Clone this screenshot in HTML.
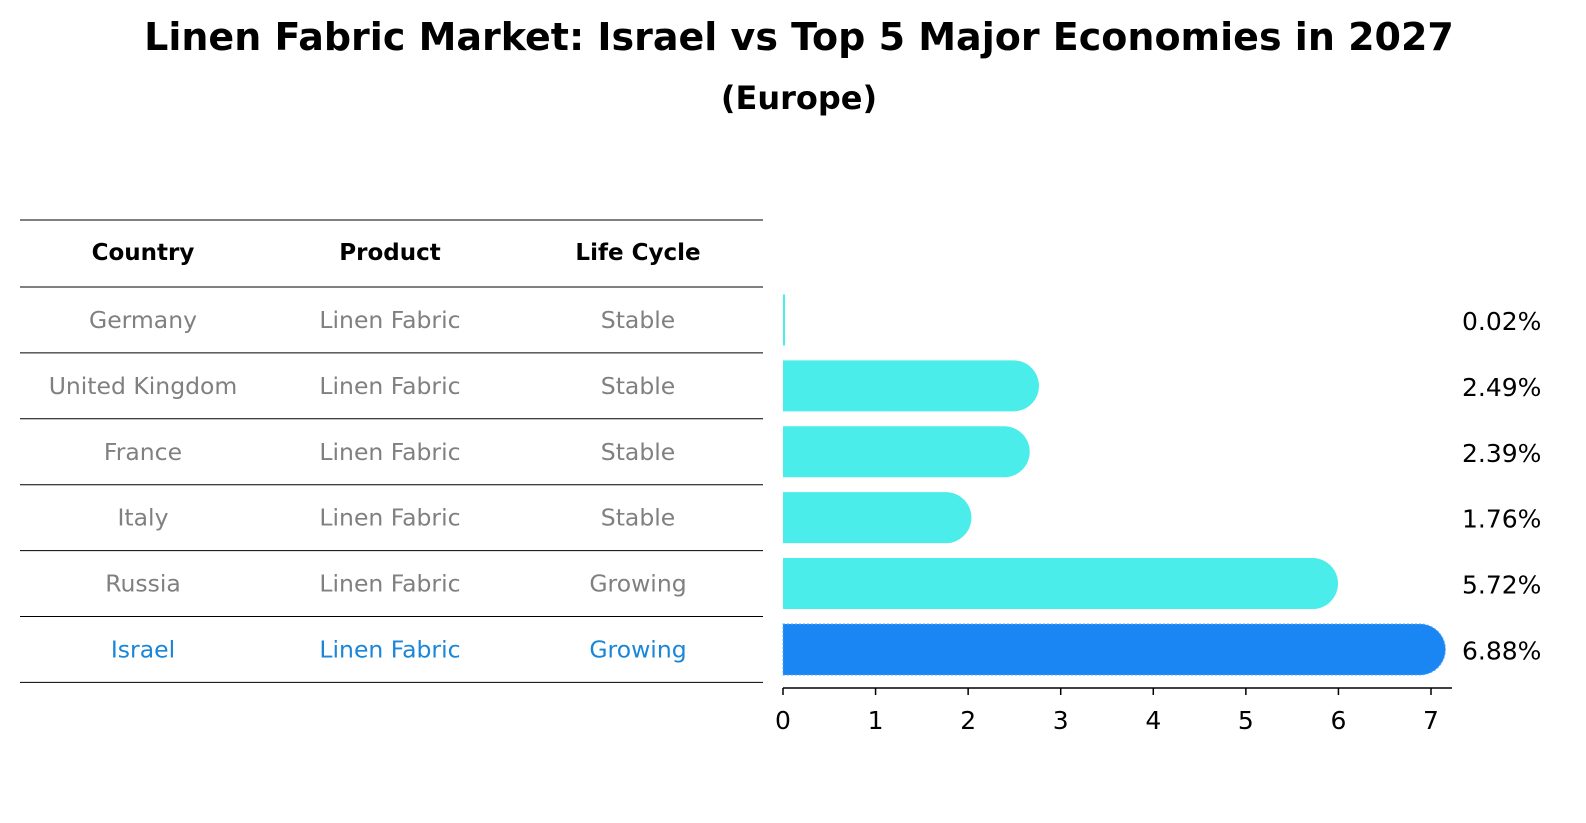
<!DOCTYPE html>
<html><head><meta charset="utf-8"><style>
body{margin:0;background:#fff;font-family:"Liberation Sans","DejaVu Sans",sans-serif;}
#root{position:relative;width:1586px;height:823px;overflow:hidden;}
.t{position:absolute;white-space:nowrap;}
</style></head><body>
<div id="root">
<div class="t" style="left:0;width:1598px;text-align:center;top:14px;font-size:38px;line-height:46px;font-weight:bold;font-family:'DejaVu Sans',sans-serif;">Linen Fabric Market: Israel vs Top 5 Major Economies in 2027</div>
<div class="t" style="left:0;width:1598px;text-align:center;top:79px;font-size:32px;line-height:38px;font-weight:bold;font-family:'DejaVu Sans',sans-serif;">(Europe)</div>
<svg id="svg" width="1586" height="823" style="position:absolute;left:0;top:0" font-family="DejaVu Sans, sans-serif"></svg>
</div>
<script>
const countries=["Germany","United Kingdom","France","Italy","Russia","Israel"];
const products=["Linen Fabric","Linen Fabric","Linen Fabric","Linen Fabric","Linen Fabric","Linen Fabric"];
const lifecycles=["Stable","Stable","Stable","Stable","Growing","Growing"];
const values=[0.02,2.49,2.39,1.76,5.72,6.88];
const ticks=[0,1,2,3,4,5,6,7];
const NS="http://www.w3.org/2000/svg";
const svg=document.getElementById('svg');
function mk(tag,attrs,parent){const e=document.createElementNS(NS,tag);for(const k in attrs)e.setAttribute(k,attrs[k]);(parent||svg).appendChild(e);return e;}
const x0=783,pxPer=(1431-783)/7;
const xs=v=>x0+v*pxPer;
const rowTop=287,rowH=65.9;
const yc=i=>rowTop+rowH*(i+0.5);
const lineYs=[220,287];for(let i=1;i<=countries.length;i++)lineYs.push(rowTop+rowH*i);
lineYs.forEach((y,i)=>{const l=mk('line',{x1:20,x2:763,y1:y,y2:y,stroke:'#000','stroke-width':1});

});
const colX=[143,390,638];
["Country","Product","Life Cycle"].forEach((h,j)=>{const t=mk('text',{x:colX[j],y:260,'text-anchor':'middle','font-size':23,'font-weight':'bold'});t.textContent=h;

});
countries.forEach((c,i)=>{const col=i===countries.length-1?'#1a86d8':'#808080';
[c,products[i],lifecycles[i]].forEach((v,j)=>{const t=mk('text',{x:colX[j],y:yc(i)+8,'text-anchor':'middle','font-size':23.5,fill:col});t.textContent=v;

});});
const bh=51,r=25.5;
values.forEach((v,i)=>{const hi=i===values.length-1;const fill=hi?'#1a86f4':'#4aede9';
const y=yc(i)-bh/2;const xe=xs(v);
let d;
if(v<0.2){d=`M${x0},${y}h${Math.max(xe-x0,2)}v${bh}h${-Math.max(xe-x0,2)}z`;}
else d=`M${x0},${y}H${xe}A${r},${r} 0 0 1 ${xe},${y+bh}H${x0}Z`;
const p=mk('path',{d:d,fill:fill});
if(hi){p.setAttribute('stroke','#5aa8f0');p.setAttribute('stroke-dasharray','2,2');p.setAttribute('stroke-width','1');}


const t=mk('text',{x:1462,y:yc(i)+10,'font-size':25});t.textContent=v.toFixed(2)+'%';

});
const ax=mk('line',{x1:x0,x2:1452,y1:688,y2:688,stroke:'#000','stroke-width':1.5});


ticks.forEach(v=>{const l=mk('line',{x1:xs(v),x2:xs(v),y1:688,y2:695,stroke:'#000','stroke-width':1.5});


const t=mk('text',{x:xs(v),y:729,'text-anchor':'middle','font-size':25});t.textContent=v;

});
</script>
</body></html>
